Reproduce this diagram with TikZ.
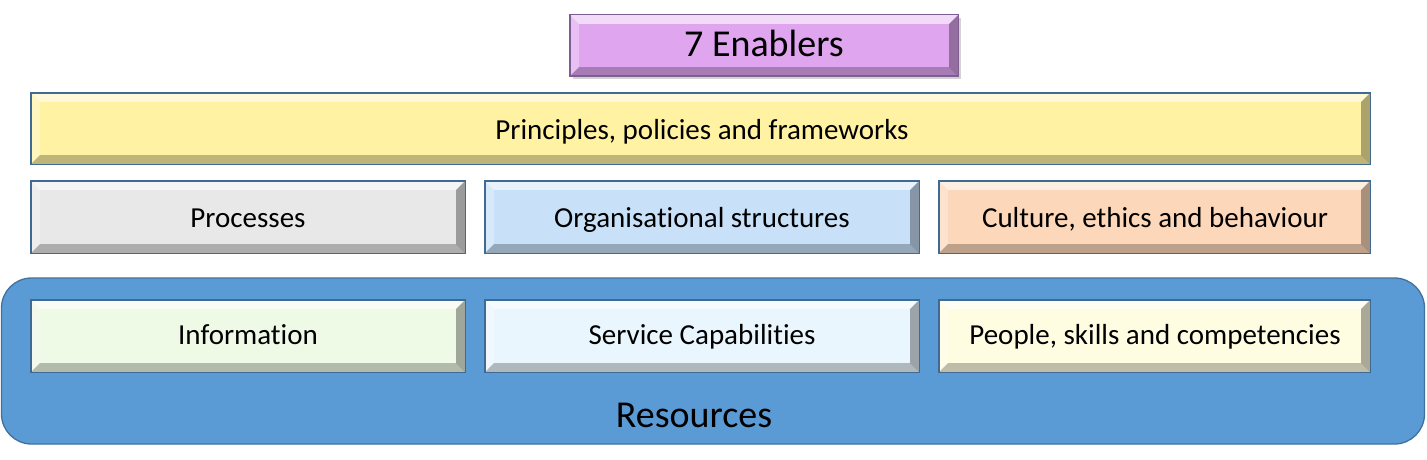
\documentclass[tikz,border=0pt]{standalone}
\usepackage{fontspec}
\setmainfont[Ligatures=NoCommon]{Carlito}
\usetikzlibrary{shadows}
\definecolor{bordc}{HTML}{3E6A94}
\definecolor{titlec}{HTML}{DFA5EF}
\definecolor{titleb}{HTML}{7E5E90}
\definecolor{princc}{HTML}{FFF2A2}
\definecolor{procc}{HTML}{E8E8E8}
\definecolor{orgc}{HTML}{C8E1F8}
\definecolor{cultc}{HTML}{FDD7B9}
\definecolor{infoc}{HTML}{EEF9E6}
\definecolor{servc}{HTML}{EAF6FD}
\definecolor{peopc}{HTML}{FFFDE1}
\definecolor{resc}{HTML}{5B9BD5}
\definecolor{resb}{HTML}{41719C}
\tikzset{
  bev/.style={inner sep=0pt, minimum height=72pt},
  lbl/.style={inner sep=0pt, anchor=base, font=\fontsize{29}{32}\selectfont},
  biglbl/.style={inner sep=0pt, anchor=base, font=\fontsize{38}{42}\selectfont},
}
\newcommand\bevel[3][9pt]{%
  \fill[white,opacity=.6] (#2.north west) -- (#2.north east) -- ([shift={(-#1,-#1)}]#2.north east) -- ([shift={(#1,-#1)}]#2.north west) -- cycle;
  \fill[white,opacity=.3] (#2.north west) -- ([shift={(#1,-#1)}]#2.north west) -- ([shift={(#1,#1)}]#2.south west) -- (#2.south west) -- cycle;
  \fill[black,opacity=.25] (#2.south west) -- (#2.south east) -- ([shift={(-#1,#1)}]#2.south east) -- ([shift={(#1,#1)}]#2.south west) -- cycle;
  \fill[black,opacity=.33] (#2.north east) -- (#2.south east) -- ([shift={(-#1,#1)}]#2.south east) -- ([shift={(-#1,-#1)}]#2.north east) -- cycle;
  \draw[#3, line width=1.4pt] (#2.north west) rectangle (#2.south east);
}
\begin{document}
\begin{tikzpicture}[x={(1pt,0)},y={(0,-1pt)}]
\useasboundingbox (0,0) rectangle (1427,460);
% resources container
\node[draw=resb, line width=1.3pt, fill=resc, rounded corners=30pt, minimum width=1423pt, minimum height=166pt, inner sep=0pt] (res) at (713,361) {};
\node[biglbl] (resl) at (694,427) {Resources};
% title
\node[bev, fill=titlec, minimum width=388pt, minimum height=61pt,
  drop shadow={opacity=.35, shadow xshift=3pt, shadow yshift=-3pt}] (title) at (764,45.5) {};
\bevel{title}{titleb}
\node[biglbl] (titlel) at (764,57) {7 Enablers};
% principles
\node[bev, fill=princc, minimum width=1339pt, minimum height=71pt] (princ) at (700.5,128.5) {};
\bevel{princ}{bordc}
\node[lbl] (princl) at (702,139) {Principles, policies and frameworks};
% row 2
\node[bev, fill=procc, minimum width=434pt] (proc) at (248,217) {};
\bevel{proc}{bordc}
\node[lbl] (procl) at (248,227) {Processes};
\node[bev, fill=orgc, minimum width=434pt] (org) at (702,217) {};
\bevel{org}{bordc}
\node[lbl] (orgl) at (702,227) {Organisational structures};
\node[bev, fill=cultc, minimum width=431pt] (cult) at (1154.5,217) {};
\bevel{cult}{bordc}
\node[lbl] (cultl) at (1155,227) {Culture, ethics and behaviour};
% row 3
\node[bev, fill=infoc, minimum width=434pt] (info) at (248,336) {};
\bevel{info}{bordc}
\node[lbl] (infol) at (248,344) {Information};
\node[bev, fill=servc, minimum width=434pt] (serv) at (702,336) {};
\bevel{serv}{bordc}
\node[lbl] (servl) at (702,344) {Service Capabilities};
\node[bev, fill=peopc, minimum width=431pt] (peop) at (1154.5,336) {};
\bevel{peop}{bordc}
\node[lbl] (peopl) at (1155,344) {People, skills and competencies};
\end{tikzpicture}
\end{document}
